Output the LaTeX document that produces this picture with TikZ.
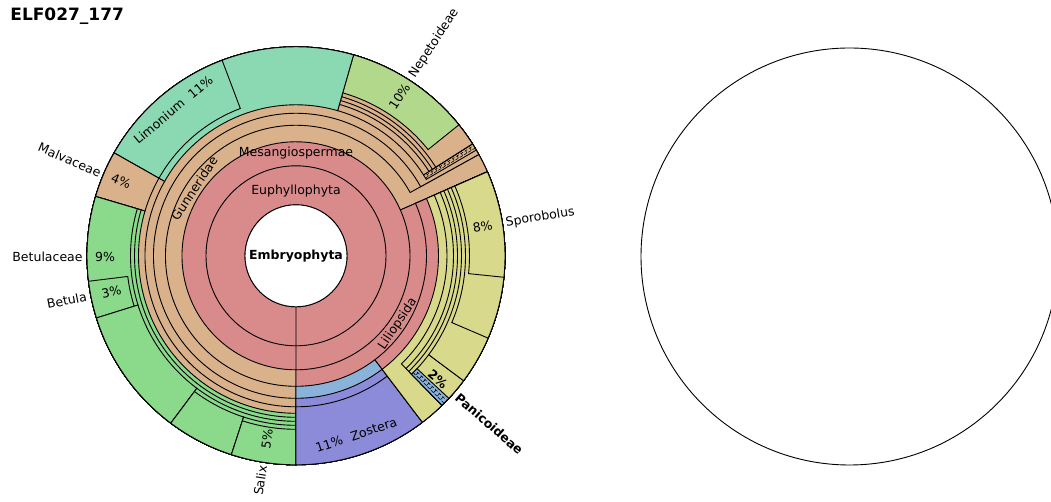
\documentclass[tikz,border=0pt]{standalone}
\usepackage{fontspec}
\setmainfont{DejaVu Sans}

\definecolor{krpink}{RGB}{217,139,139}
\definecolor{krtan}{RGB}{217,178,139}
\definecolor{krteal}{RGB}{139,217,178}
\definecolor{krlime}{RGB}{178,217,139}
\definecolor{krgreen}{RGB}{139,217,139}
\definecolor{kryellow}{RGB}{217,217,139}
\definecolor{krblue}{RGB}{139,178,217}
\definecolor{krpurple}{RGB}{139,139,217}

\newcommand{\kouter}{209}
\newcommand{\krwedge}[4]{%
	\filldraw[fill=#4] (#1:#3pt) arc[start angle=#1, end angle=#2, radius=#3pt]
		-- (#2:\kouter pt) arc[start angle=#2, end angle=#1, radius=\kouter pt] -- cycle;}
\newcommand{\krhatch}[4]{%
	\krwedge{#1}{#2}{#3}{#4}
	\begin{scope}
		\clip (#1:#3pt) arc[start angle=#1, end angle=#2, radius=#3pt]
			-- (#2:\kouter pt) arc[start angle=#2, end angle=#1, radius=\kouter pt] -- cycle;
		\pgfmathsetmacro{\kangA}{#1+0.3*(#2-#1)}
		\pgfmathsetmacro{\kangB}{#1+0.7*(#2-#1)}
		\draw[line width=0.6pt, dash pattern=on 3pt off 2pt] (\kangA:#3pt) -- (\kangA:\kouter pt);
		\draw[line width=0.6pt, dash pattern=on 3pt off 2pt, dash phase=2.5pt] (\kangB:#3pt) -- (\kangB:\kouter pt);
		\foreach \k in {1,...,12}{
			\pgfmathsetmacro{\kr}{#3+\k*5-1.5}
			\draw[line width=0.6pt] (\kangA:\kr pt) -- (\kangB:\kr pt);}
	\end{scope}}

\tikzset{
	lbl/.style={font=\fontsize{12.5}{15}\selectfont, inner sep=0pt},
	boldlbl/.style={font=\fontsize{12.5}{15}\selectfont\bfseries, inner sep=0pt}
}

\begin{document}
\begin{tikzpicture}[x=1pt, y=1pt, line width=0.9pt]
	\useasboundingbox (-296,-246.2) rectangle (755,255.8);

	\krwedge{-90}{270}{51}{krpink}
	\krwedge{-90}{270}{90}{krpink}

	\krwedge{23.7}{270}{114}{krtan}
	\krwedge{29}{270}{130.5}{krtan}
	\krwedge{29}{270}{142.5}{krtan}
	\krhatch{30.4}{32.4}{151}{krtan}
	\krwedge{32.4}{74}{151}{krtan}
	\krwedge{32.4}{74}{157.5}{krtan}
	\krwedge{32.4}{74}{161.5}{krtan}
	\krwedge{32.4}{74}{165.5}{krtan}
	\krwedge{38.8}{74}{169.5}{krlime}
	\krwedge{74}{150.5}{151}{krteal}
	\krwedge{110.7}{150.5}{157.5}{krteal}
	\krwedge{150.5}{270}{151}{krtan}
	\krwedge{150.5}{163.5}{157.5}{krtan}
	\krwedge{163.5}{270}{157.5}{krgreen}
	\krwedge{163.5}{270}{161.5}{krgreen}
	\krwedge{163.5}{197.3}{165.5}{krgreen}
	\krwedge{187}{197.3}{169.5}{krgreen}
	\krwedge{197.3}{233.2}{165.5}{krgreen}
	\krwedge{233.2}{270}{165.5}{krgreen}
	\krwedge{233.2}{252}{169.5}{krgreen}
	\krwedge{252}{270}{169.5}{krgreen}
	\krwedge{252}{270}{173.5}{krgreen}

	\krwedge{-90}{23.7}{114}{krpink}
	\krwedge{-90}{-52.8}{130.5}{krblue}
	\krwedge{-90}{-52.8}{142.5}{krpurple}
	\krwedge{-90}{-52.8}{151}{krpurple}
	\krwedge{-52.8}{23.7}{130.5}{krpink}
	\krwedge{-52.8}{23.7}{142.5}{kryellow}
	\krwedge{-45.7}{23.7}{151}{kryellow}
	\krwedge{-45.7}{23.7}{157.5}{kryellow}
	\krwedge{-45.7}{23.7}{161.5}{kryellow}
	\krwedge{-45.7}{-36.7}{165.5}{kryellow}
	\krhatch{-45.7}{-43}{165.5}{krblue}
	\krwedge{-36.7}{23.7}{165.5}{kryellow}
	\krwedge{-23.2}{23.7}{169.5}{kryellow}
	\krwedge{-5.9}{23.7}{173.5}{kryellow}

	\filldraw[fill=white] (0,0) circle[radius=51pt];

	\node[font=\fontsize{17}{20}\selectfont\bfseries, anchor=north west, inner sep=0pt] (title) at (-286,248) {ELF027\_177};
	\node[boldlbl] (root) at (0,0) {Embryophyta};
	\node[lbl] (euph) at (90:65pt) {Euphyllophyta};
	\node[lbl] (mesa) at (90:103pt) {Mesangiospermae};
	\node[lbl, rotate=56.5] (gunn) at (146.5:122pt) {Gunneridae};
	\node[lbl, rotate=56.2] (lili) at (-33.8:122.5pt) {Liliopsida};
	\node[lbl, rotate=40] (limo) at (130:191pt) {Limonium\hspace{9pt}11\%};
	\node[lbl, rotate=18.5] (zost) at (-71.4:189pt) {11\%\hspace{9pt}Zostera};
	\node[lbl, rotate=8.9] (spor8) at (8.9:189pt) {8\%};
	\node[lbl, rotate=8.9, anchor=west] (spor) at (8.9:212pt) {Sporobolus};
	\node[lbl, rotate=57] (nepe10) at (57:190pt) {10\%};
	\node[lbl, rotate=57, anchor=west] (nepe) at (57:213pt) {Nepetoideae};
	\node[lbl, rotate=-23] (malv4) at (157:190pt) {4\%};
	\node[lbl, rotate=-23, anchor=east] (malv) at (157:212pt) {Malvaceae};
	\node[lbl] (betc9) at (180.2:191pt) {9\%};
	\node[lbl, anchor=east] (betc) at (180.2:213pt) {Betulaceae};
	\node[lbl, rotate=11] (betu3) at (191:188pt) {3\%};
	\node[lbl, rotate=11, anchor=east] (betu) at (191:213pt) {Betula};
	\node[lbl, rotate=81] (sali5) at (261:185pt) {5\%};
	\node[lbl, rotate=81, anchor=east] (sali) at (261:212pt) {Salix};
	\node[boldlbl, rotate=-41] (pani2) at (-41:188pt) {2\%};
	\node[boldlbl, rotate=-41, anchor=west] (pani) at (-41:213pt) {Panicoideae};

	\node[draw, circle, minimum size=417pt, inner sep=0pt] (blank) at (553.5,-0.7) {};
\end{tikzpicture}
\end{document}
